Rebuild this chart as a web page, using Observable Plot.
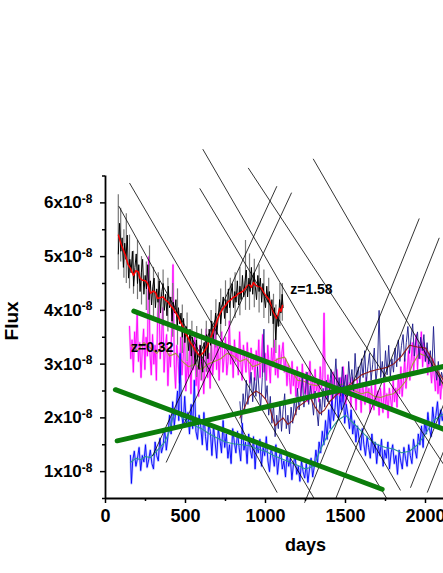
<!DOCTYPE html>
<html><head><meta charset="utf-8">
<script src="https://cdn.jsdelivr.net/npm/d3@7"></script>
<script src="https://cdn.jsdelivr.net/npm/@observablehq/plot@0.6"></script>
<style>
body{margin:0;background:#fff;overflow:hidden}
svg{font-family:"Liberation Sans",Arial,Helvetica,sans-serif}
</style>
</head><body><div id="chart"></div>
<script>
const UNIT = 1e-8; // flux values below are in units of 1e-8

// z=1.58 source: noisy light curve [day, flux]
const blackSeries = [[80,5.05],[88,5.62],[96,5.10],[104,5.35],[112,4.80],[120,5.25],[128,4.95],[136,5.40],[144,4.60],[152,4.95],[160,4.70],[168,5.10],[176,4.45],[184,4.80],[192,5.05],[200,4.50],[208,4.85],[216,4.35],[224,4.70],[232,4.95],[240,4.30],[248,4.65],[256,4.40],[264,4.85],[272,4.20],[280,4.55],[288,4.10],[296,4.45],[304,4.60],[312,4.05],[320,4.40],[328,4.15],[336,4.55],[344,3.95],[352,4.35],[360,4.50],[368,4.00],[376,4.30],[384,3.90],[392,4.45],[400,4.05],[408,4.25],[416,3.80],[424,4.15],[432,3.95],[440,4.20],[448,3.65],[456,4.05],[464,3.75],[472,3.95],[480,3.50],[488,3.85],[496,3.40],[504,3.70],[512,3.55],[520,3.25],[528,3.65],[536,3.15],[544,3.50],[552,3.30],[560,3.00],[568,3.45],[576,3.10],[584,2.90],[592,3.35],[600,3.05],[608,2.85],[616,3.40],[624,3.15],[632,3.55],[640,3.10],[648,3.65],[656,3.35],[664,3.80],[672,3.45],[680,3.65],[688,3.95],[696,3.55],[704,3.85],[712,4.15],[720,3.75],[728,4.05],[736,4.25],[744,3.85],[752,4.20],[760,3.95],[768,4.40],[776,4.05],[784,4.30],[792,4.50],[800,4.05],[808,4.35],[816,4.15],[824,4.55],[832,4.10],[840,4.45],[848,4.20],[856,4.65],[864,4.25],[872,4.55],[880,4.75],[888,4.25],[896,4.60],[904,4.35],[912,4.80],[920,4.30],[928,4.70],[936,4.45],[944,4.20],[952,4.65],[960,4.35],[968,4.60],[976,4.15],[984,4.50],[992,4.25],[1000,4.05],[1008,4.45],[1016,4.15],[1024,4.35],[1032,3.90],[1040,4.20],[1048,3.75],[1056,4.05],[1064,3.45],[1072,3.90],[1080,3.70],[1088,4.20],[1096,3.95],[1104,4.30],[1110,4.05]];
// error spikes of the z=1.58 source [day, low, high]
const blackErrors = [[80,4.75,6.15],[95,4.9,5.9],[115,4.6,5.5],[130,4.5,5.8],[150,4.4,5.4],[175,4.3,5.1],[200,4.2,5.3],[225,4.1,5.0],[255,4.0,4.9],[275,3.9,5.2],[300,3.85,4.8],[330,3.8,4.7],[360,3.7,4.75],[390,3.6,4.6],[420,3.5,4.5],[450,3.35,4.4],[480,3.2,4.1],[510,3.05,3.95],[540,2.9,3.8],[570,2.75,3.7],[600,2.7,3.65],[630,2.85,3.8],[660,3.05,4.0],[690,3.3,4.2],[720,3.5,4.4],[750,3.7,4.55],[780,3.75,4.6],[810,3.85,4.7],[840,3.9,4.8],[875,4.0,5.3],[900,4.0,5.05],[930,4.05,4.95],[960,3.95,4.85],[990,3.85,4.75],[1020,3.75,4.6],[1050,3.3,4.3],[1065,3.2,4.1],[1090,3.7,4.5],[1105,3.8,4.5]];
// smoothed z=1.58 curve
const redSmooth = [[81,5.40],[100,5.21],[125,5.02],[140,4.86],[156,4.78],[175,4.65],[190,4.74],[206,4.71],[215,4.60],[231,4.56],[250,4.55],[263,4.50],[281,4.32],[300,4.36],[313,4.33],[325,4.22],[344,4.24],[360,4.25],[375,4.19],[390,4.16],[406,4.09],[420,4.05],[438,3.96],[455,3.88],[469,3.78],[485,3.69],[500,3.57],[515,3.50],[531,3.40],[548,3.33],[563,3.25],[575,3.20],[588,3.16],[600,3.18],[613,3.22],[625,3.28],[638,3.35],[650,3.46],[663,3.53],[675,3.64],[688,3.72],[700,3.83],[719,3.96],[735,4.04],[750,4.09],[765,4.16],[781,4.19],[797,4.24],[813,4.26],[828,4.31],[844,4.33],[860,4.36],[875,4.41],[888,4.46],[900,4.48],[912,4.43],[925,4.52],[938,4.47],[950,4.45],[962,4.44],[975,4.41],[988,4.33],[1000,4.28],[1012,4.24],[1025,4.19],[1038,4.06],[1050,3.96],[1060,3.90],[1069,3.85],[1078,3.92],[1088,4.04],[1097,3.98],[1106,4.09]];

// z=0.32 source (magenta) [day, flux]
const magentaSeries = [[150,3.70],[158,3.10],[166,3.45],[174,2.85],[182,3.60],[190,3.25],[198,3.95],[206,3.05],[214,3.40],[222,2.75],[230,3.30],[238,3.65],[246,2.90],[254,3.50],[262,3.15],[270,5.00],[278,3.20],[286,2.80],[294,3.55],[302,3.00],[310,3.35],[318,2.70],[326,3.90],[334,4.20],[342,3.10],[350,3.45],[358,4.05],[366,2.85],[374,3.30],[382,3.55],[390,2.60],[398,3.20],[406,2.95],[414,3.70],[422,4.85],[430,3.00],[438,2.55],[446,3.35],[454,3.05],[462,2.65],[470,3.50],[478,2.80],[486,3.15],[494,3.60],[502,2.50],[510,3.05],[518,2.75],[526,3.40],[534,2.45],[542,3.25],[550,2.90],[558,3.55],[566,2.60],[574,2.95],[582,2.40],[590,3.35],[598,2.70],[606,3.10],[614,2.45],[622,3.00],[630,3.65],[638,2.75],[646,3.20],[654,2.55],[662,3.45],[670,2.80],[678,3.10],[686,3.75],[694,2.90],[702,3.35],[710,2.70],[718,3.25],[726,3.60],[734,2.85],[742,3.15],[750,3.50],[758,2.80],[766,3.05],[774,3.80],[782,3.00],[790,3.30],[798,2.75],[806,3.45],[814,3.05],[822,3.25],[830,2.80],[838,3.60],[846,3.00],[854,2.70],[862,3.35],[870,3.10],[878,2.85],[886,3.40],[894,3.00],[902,2.65],[910,3.30],[918,2.90],[926,3.15],[934,2.70],[942,3.25],[950,2.95],[958,3.45],[966,2.75],[974,3.10],[982,3.55],[990,2.85],[998,3.20],[1006,2.70],[1014,3.35],[1022,3.00],[1030,2.65],[1038,3.30],[1046,2.95],[1054,3.45],[1062,2.80],[1070,3.10],[1078,2.75],[1086,3.35],[1094,2.90],[1102,3.20],[1110,3.40],[1118,2.85],[1126,3.10],[1134,2.60],[1142,3.00],[1150,2.75],[1158,2.45],[1166,3.05],[1174,2.60],[1182,2.85],[1190,2.40],[1198,2.95],[1206,2.55],[1214,2.75],[1222,2.35],[1230,3.00],[1238,2.60],[1246,2.45],[1254,2.85],[1262,2.30],[1270,2.70],[1278,3.05],[1286,2.45],[1294,2.75],[1302,2.35],[1310,2.90],[1318,2.50],[1326,2.65],[1334,2.30],[1342,2.95],[1350,2.55],[1358,2.75],[1366,3.95],[1374,2.50],[1382,2.35],[1390,2.80],[1398,2.45],[1406,2.70],[1414,2.25],[1422,2.85],[1430,2.55],[1438,2.35],[1446,2.90],[1454,2.60],[1462,2.40],[1470,2.75],[1478,2.30],[1486,2.95],[1494,2.55],[1502,2.25],[1510,2.80],[1518,2.45],[1526,2.65],[1534,2.20],[1542,2.75],[1550,2.40],[1558,2.60],[1566,2.15],[1574,2.70],[1582,2.35],[1590,2.55],[1598,2.10],[1606,2.65],[1614,2.45],[1622,2.25],[1630,2.75],[1638,2.30],[1646,2.55],[1654,2.10],[1662,2.60],[1670,2.35],[1678,2.15],[1686,2.70],[1694,2.25],[1702,2.50],[1710,2.05],[1718,2.55],[1726,2.30],[1734,2.10],[1742,2.65],[1750,2.20],[1758,2.45],[1766,2.00],[1774,2.55],[1782,2.35],[1790,2.15],[1798,2.70],[1806,2.30],[1814,2.55],[1822,2.20],[1830,2.80],[1838,2.45],[1846,2.95],[1854,2.40],[1862,2.70],[1870,3.10],[1878,2.55],[1886,2.90],[1894,3.25],[1902,2.70],[1910,3.05],[1918,3.40],[1926,2.85],[1934,3.30],[1942,3.55],[1950,2.90],[1958,3.35],[1966,3.10],[1974,3.60],[1982,2.95],[1990,3.40],[1998,3.05],[2006,3.30],[2014,2.80],[2022,3.20],[2030,2.95],[2038,2.65],[2046,3.10],[2054,2.80],[2062,2.50],[2070,2.95],[2078,2.45],[2086,2.80],[2094,2.35],[2102,2.70],[2112,2.55]];
const oliveSmooth = [[160,3.35],[200,3.25],[240,3.40],[280,3.30],[320,3.20],[360,3.35],[400,3.15],[440,3.20],[480,3.05],[520,2.95],[560,3.00],[600,2.90],[640,3.00],[680,3.05],[720,3.10],[760,3.20],[800,3.15],[840,3.05],[880,3.10],[920,2.95],[960,3.00],[1000,3.08],[1040,3.03],[1080,3.10],[1120,3.13],[1160,2.90],[1200,2.70],[1240,2.68],[1280,2.62],[1320,2.60],[1360,2.68],[1400,2.56],[1440,2.58],[1480,2.63],[1520,2.55],[1560,2.50],[1600,2.45],[1640,2.48],[1680,2.40],[1720,2.38],[1760,2.42],[1800,2.45],[1840,2.55],[1880,2.70],[1920,3.00],[1960,3.20],[2000,3.15],[2040,3.05],[2080,2.80],[2112,2.60]];

// navy source [day, flux]
const navySeries = [[840,2.30],[850,1.90],[860,2.45],[870,2.15],[880,2.70],[890,2.25],[900,2.55],[910,2.85],[920,2.30],[930,2.75],[940,2.40],[950,2.95],[960,2.50],[970,2.20],[980,2.75],[990,3.65],[1000,2.35],[1010,2.60],[1020,2.05],[1030,2.40],[1040,1.90],[1050,2.25],[1060,1.65],[1070,2.05],[1080,1.80],[1090,2.30],[1100,1.75],[1110,2.15],[1120,2.45],[1130,1.80],[1140,2.05],[1150,1.70],[1160,2.20],[1170,1.90],[1180,2.35],[1190,2.05],[1200,2.55],[1210,2.15],[1220,2.40],[1230,2.75],[1240,2.20],[1250,2.50],[1260,2.85],[1270,2.25],[1280,2.60],[1290,2.35],[1300,2.05],[1310,2.50],[1320,2.15],[1330,1.85],[1340,2.35],[1350,2.05],[1360,2.55],[1370,2.20],[1380,2.70],[1390,2.30],[1400,2.55],[1410,2.90],[1420,2.35],[1430,2.65],[1440,3.10],[1450,2.45],[1460,2.75],[1470,2.40],[1480,2.95],[1490,2.55],[1500,2.80],[1510,2.40],[1520,3.05],[1530,2.65],[1540,2.90],[1550,2.50],[1560,3.20],[1570,2.70],[1580,2.95],[1590,2.60],[1600,3.10],[1610,2.75],[1620,3.25],[1630,2.65],[1640,2.95],[1650,3.20],[1660,2.70],[1670,3.00],[1680,3.30],[1690,2.65],[1700,2.95],[1710,4.00],[1720,2.75],[1730,3.05],[1740,2.70],[1750,3.25],[1760,2.80],[1770,3.35],[1780,2.75],[1790,3.10],[1800,2.85],[1810,3.30],[1820,2.95],[1830,3.45],[1840,3.05],[1850,3.35],[1860,3.55],[1870,3.05],[1880,3.40],[1890,3.70],[1900,3.20],[1910,3.50],[1920,3.75],[1930,3.15],[1940,3.45],[1950,3.60],[1960,3.10],[1970,3.50],[1980,3.25],[1990,3.55],[2000,3.05],[2010,3.40],[2020,3.00],[2030,3.25],[2040,2.90],[2050,3.70],[2060,2.95],[2070,2.70],[2080,3.05],[2090,2.60],[2100,2.85],[2112,2.70]];
const darkRedSmooth = [[840,2.00],[870,2.20],[900,2.40],[940,2.50],[970,2.45],[1000,2.35],[1030,2.15],[1060,1.85],[1080,1.92],[1110,2.00],[1140,1.88],[1170,1.95],[1200,2.20],[1240,2.28],[1280,2.38],[1310,2.20],[1340,2.08],[1370,2.15],[1400,2.30],[1440,2.42],[1480,2.50],[1540,2.65],[1600,2.80],[1650,2.86],[1700,2.90],[1760,2.94],[1800,3.00],[1850,3.15],[1900,3.35],[1950,3.32],[2000,3.30],[2040,3.10],[2080,2.85],[2112,2.70]];

// blue source [day, flux]
const blueSeries = [[156,1.30],[162,0.78],[170,1.20],[180,1.38],[190,1.10],[200,1.25],[210,1.45],[220,1.02],[230,1.30],[240,1.18],[250,1.50],[260,1.08],[270,1.22],[280,1.40],[290,1.15],[300,1.05],[310,1.55],[320,1.30],[330,1.20],[340,1.62],[350,1.35],[360,1.48],[370,1.80],[380,1.40],[390,1.65],[400,2.05],[410,1.70],[420,2.30],[430,1.85],[440,2.15],[450,2.50],[458,1.95],[466,3.20],[475,2.10],[485,1.85],[495,2.40],[505,1.90],[515,2.10],[525,1.70],[535,2.25],[545,1.80],[555,2.70],[565,1.75],[575,1.60],[585,2.05],[595,1.85],[605,1.50],[615,2.10],[625,1.65],[635,1.40],[645,1.90],[655,1.75],[665,1.30],[675,1.85],[685,1.55],[695,1.25],[705,1.80],[715,1.60],[725,1.35],[735,1.95],[745,1.45],[755,1.70],[765,1.25],[775,1.50],[785,1.15],[795,1.80],[805,1.55],[815,1.35],[825,1.75],[835,1.45],[845,1.20],[855,1.90],[865,1.40],[875,1.55],[885,1.15],[895,1.70],[905,1.40],[915,1.25],[925,1.65],[935,1.05],[945,1.50],[955,1.35],[965,1.60],[975,1.10],[985,1.45],[995,1.30],[1005,1.65],[1015,1.20],[1025,1.00],[1035,1.45],[1045,1.30],[1055,1.10],[1065,1.50],[1075,0.95],[1085,1.25],[1095,1.40],[1105,1.05],[1115,1.20],[1125,0.90],[1135,1.35],[1145,1.10],[1155,1.25],[1165,0.85],[1175,1.15],[1185,1.30],[1195,0.95],[1205,1.10],[1215,0.82],[1225,1.20],[1235,1.00],[1245,0.88],[1255,1.15],[1265,0.80],[1275,1.05],[1285,1.25],[1295,0.90],[1305,1.10],[1315,1.40],[1325,1.15],[1335,1.55],[1345,1.35],[1355,1.75],[1365,1.50],[1375,1.95],[1385,1.60],[1395,2.15],[1405,1.80],[1415,2.35],[1425,1.95],[1435,2.20],[1445,2.55],[1455,2.00],[1465,2.40],[1475,2.15],[1485,2.60],[1495,1.90],[1505,2.25],[1515,2.05],[1525,1.80],[1535,2.15],[1545,1.70],[1555,1.95],[1565,1.55],[1575,1.85],[1585,1.60],[1595,1.40],[1605,1.80],[1615,1.50],[1625,1.30],[1635,1.65],[1645,1.45],[1655,1.25],[1665,1.70],[1675,1.35],[1685,1.55],[1695,1.15],[1705,1.50],[1715,1.30],[1725,1.60],[1735,1.10],[1745,1.40],[1755,1.25],[1765,1.55],[1775,1.05],[1785,1.35],[1795,1.50],[1805,1.15],[1815,1.30],[1825,0.95],[1835,1.40],[1845,1.20],[1855,1.05],[1865,1.45],[1875,1.25],[1885,1.10],[1895,1.50],[1905,1.30],[1915,1.15],[1925,1.60],[1935,1.40],[1945,1.25],[1955,1.70],[1965,1.50],[1975,1.85],[1985,1.45],[1995,1.95],[2005,1.70],[2015,2.10],[2025,1.80],[2035,1.65],[2045,2.20],[2055,1.90],[2065,2.05],[2075,2.30],[2085,1.85],[2095,2.15],[2105,1.95],[2112,2.10]];
const tealSmooth = [[156,1.17],[190,1.25],[220,1.22],[250,1.28],[280,1.26],[310,1.35],[340,1.45],[370,1.55],[400,1.75],[420,2.00],[440,2.10],[460,2.05],[490,1.98],[530,1.90],[560,1.85],[600,1.80],[650,1.70],[700,1.62],[750,1.55],[800,1.52],[850,1.50],[900,1.48],[950,1.42],[1000,1.38],[1050,1.30],[1100,1.24],[1150,1.18],[1200,1.12],[1250,1.05],[1300,1.10],[1350,1.45],[1400,1.75],[1450,1.95],[1500,2.05],[1550,1.90],[1600,1.75],[1650,1.60],[1700,1.50],[1750,1.45],[1800,1.42],[1850,1.35],[1900,1.38],[1950,1.50],[2000,1.70],[2050,1.95],[2100,2.05],[2112,2.07]];

// thin guide lines [day1, flux1, day2, flux2]
const guideLines = [[83,5.94,1073,0.61],[150,6.37,1302,0.51],[589,6.27,1756,0.51],[608,7.00,1844,0.65],[892,6.65,2112,1.14],[1298,6.82,2111,2.63],[294,1.29,1071,6.31],[379,1.17,1163,6.19],[1244,0.42,1961,5.71],[1438,0.49,2086,5.35],[1906,0.70,2112,2.24],[2011,0.61,2112,1.37]];
// thick green trend lines [day1, flux1, day2, flux2]
const trendLines = [[177,3.985,2112,1.79],[73,1.573,2112,2.955],[62,2.524,1729,0.672]];

// annotations [day, flux, text]
const annotations = [[1287,4.39,"z=1.58"],[292,3.31,"z=0.32"]];

const xMajorTicks = [0,500,1000,1500,2000];
const xMinorTicks = [250,750,1250,1750];
const yMajorTicks = [1,2,3,4,5,6];
const yMinorTicks = [0.5,1.5,2.5,3.5,4.5,5.5,6.5];
const xTitle = "days", yTitle = "Flux";

const pts = a => a.map(([d,f]) => ({day:d, flux:f*UNIT}));
const segs = a => a.map(([d1,f1,d2,f2]) => ({x1:d1, y1:f1*UNIT, x2:d2, y2:f2*UNIT}));
const errs = blackErrors.map(([d,lo,hi]) => ({day:d, lo:lo*UNIT, hi:hi*UNIT}));
const notes = annotations.map(([d,f,t]) => ({day:d, flux:f*UNIT, t}));

const font = '"Liberation Sans",Arial,sans-serif';
const chart = Plot.plot({
  width: 443, height: 573,
  marginTop: 175.5, marginBottom: 75, marginLeft: 105, marginRight: 0,
  x: {domain: [0, 2112.5]},
  y: {domain: [0.5*UNIT, 6.5*UNIT]},
  style: {fontFamily: font, background: "#fff", color: "#000"},
  marks: [
    Plot.axisX({ticks: xMinorTicks, tickSize: 3, tickFormat: () => "", strokeWidth: 1.5, label: null}),
    Plot.axisX({ticks: xMajorTicks, tickSize: 5, tickPadding: 6, strokeWidth: 1.5, fontSize: 18, fontWeight: "bold", label: null, tickFormat: d => String(d)}),
    Plot.axisY({ticks: yMinorTicks.map(v => v*UNIT), tickSize: 3, tickFormat: () => "", strokeWidth: 1.5, label: null}),
    Plot.axisY({ticks: yMajorTicks.map(v => v*UNIT), tickSize: 5, tickPadding: 8, strokeWidth: 1.5, fontSize: 17, fontWeight: "bold", label: null, tickFormat: d => Math.round(d/UNIT) + "x10"}),
    Plot.ruleX([0], {strokeWidth: 1.8}),
    Plot.ruleY([0.5*UNIT], {strokeWidth: 1.8}),
    // magenta source
    Plot.line(pts(magentaSeries), {x:"day", y:"flux", stroke:"#ff00ff", strokeWidth:2.2, strokeOpacity:0.3}),
    Plot.line(pts(magentaSeries), {x:"day", y:"flux", stroke:"#ff00ff", strokeWidth:0.9}),
    Plot.line(pts(oliveSmooth), {x:"day", y:"flux", stroke:"#a8963c", strokeWidth:1.1}),
    // blue source
    Plot.line(pts(blueSeries), {x:"day", y:"flux", stroke:"#3344ff", strokeWidth:2.4, strokeOpacity:0.3}),
    Plot.line(pts(blueSeries), {x:"day", y:"flux", stroke:"#0000ff", strokeWidth:0.9}),
    Plot.line(pts(tealSmooth), {x:"day", y:"flux", stroke:"#2a9696", strokeWidth:1.1}),
    // navy source
    Plot.line(pts(navySeries), {x:"day", y:"flux", stroke:"#1a1a8a", strokeWidth:0.9}),
    Plot.line(pts(darkRedSmooth), {x:"day", y:"flux", stroke:"#8e1a1a", strokeWidth:1.1}),
    // z=1.58 source
    Plot.ruleX(errs, {x:"day", y1:"lo", y2:"hi", stroke:"#777", strokeWidth:1.2}),
    Plot.line(pts(blackSeries), {x:"day", y:"flux", stroke:"#000", strokeWidth:1}),
    Plot.line(pts(redSmooth), {x:"day", y:"flux", stroke:"#ff0000", strokeWidth:1.5}),
    // guides and trends
    Plot.link(segs(guideLines), {x1:"x1", y1:"y1", x2:"x2", y2:"y2", stroke:"#000", strokeWidth:0.8}),
    Plot.link(segs(trendLines), {x1:"x1", y1:"y1", x2:"x2", y2:"y2", stroke:"#0b7d0b", strokeWidth:5, strokeLinecap:"round"}),
    Plot.text(notes, {x:"day", y:"flux", text:"t", fontSize:14, fontWeight:"bold", fill:"#000"}),
    Plot.text([{day:1250, t:xTitle}], {x:"day", frameAnchor:"bottom", dy:52, text:"t", fontSize:18, fontWeight:"bold", fill:"#000"}),
    Plot.text([{flux:3.44*UNIT, t:yTitle}], {y:"flux", frameAnchor:"left", dx:-93.5, rotate:-90, text:"t", fontSize:19, fontWeight:"bold", fill:"#000"})
  ]
});
document.getElementById("chart").appendChild(chart);

// add superscript exponent to y tick labels
d3.select(chart).selectAll('g[aria-label="y-axis tick label"] text').each(function() {
  const t = d3.select(this);
  if (t.text()) t.append("tspan").attr("dy", "-0.45em").attr("font-size", 12).text("-8");
});
</script>
</body></html>
